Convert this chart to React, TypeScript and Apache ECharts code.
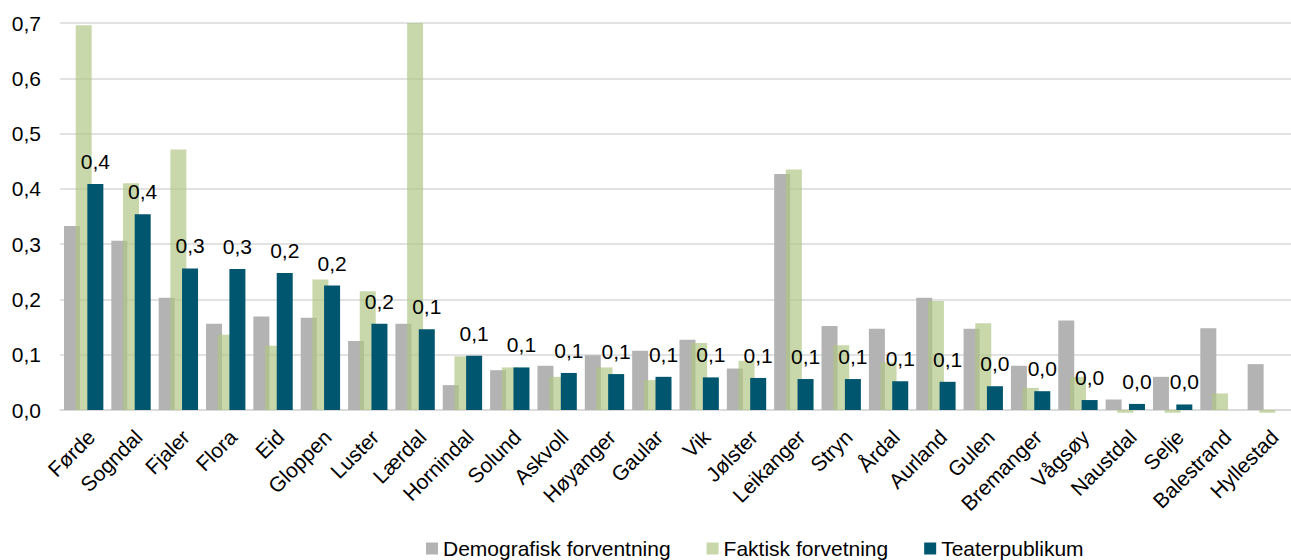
import React, { useEffect, useRef } from "react";
import * as echarts from "echarts";

const categories = [
  "Førde", "Sogndal", "Fjaler", "Flora", "Eid", "Gloppen", "Luster", "Lærdal",
  "Hornindal", "Solund", "Askvoll", "Høyanger", "Gaular", "Vik", "Jølster",
  "Leikanger", "Stryn", "Årdal", "Aurland", "Gulen", "Bremanger", "Vågsøy",
  "Naustdal", "Selje", "Balestrand", "Hyllestad",
];

const demografisk = [
  0.333, 0.306, 0.203, 0.156, 0.169, 0.167, 0.125, 0.156, 0.045, 0.072, 0.08,
  0.099, 0.107, 0.127, 0.075, 0.427, 0.152, 0.147, 0.203, 0.147, 0.08, 0.162,
  0.019, 0.06, 0.148, 0.083,
];

const faktisk = [
  0.696, 0.41, 0.471, 0.136, 0.116, 0.236, 0.215, 0.7, 0.097, 0.077, 0.06,
  0.077, 0.054, 0.121, 0.089, 0.435, 0.117, 0.086, 0.197, 0.157, 0.04, 0.06,
  -0.005, -0.005, 0.03, -0.005,
];

const teaterpublikum = [
  0.409, 0.354, 0.256, 0.255, 0.248, 0.225, 0.156, 0.146, 0.098, 0.077, 0.067,
  0.065, 0.06, 0.059, 0.058, 0.056, 0.056, 0.052, 0.051, 0.043, 0.034, 0.018,
  0.011, 0.01, null, null,
];

const seriesNames = ["Demografisk forventning", "Faktisk forvetning", "Teaterpublikum"];
const yTicks = { min: 0, max: 0.7, interval: 0.1 };

const fmt = (v: number) => v.toFixed(1).replace(".", ",");

export default function App() {
  const ref = useRef<HTMLDivElement>(null);
  useEffect(() => {
    if (!ref.current) return;
    const chart = echarts.init(ref.current, null, { renderer: "svg" });
    const font = "Liberation Sans, Arial, sans-serif";
    chart.setOption({
      animation: false,
      textStyle: { fontFamily: font },
      grid: { left: 60, right: -9, top: 23, bottom: 150, containLabel: false },
      legend: {
        left: 426,
        top: 538,
        padding: 0,
        itemWidth: 12,
        itemHeight: 12,
        itemGap: 36,
        icon: "rect",
        textStyle: { fontSize: 21, color: "#000", fontFamily: font },
        data: seriesNames,
      },
      xAxis: {
        type: "category",
        data: categories,
        axisTick: { show: false },
        axisLine: { lineStyle: { color: "#d9d9d9", width: 1.5 } },
        axisLabel: {
          rotate: 45,
          interval: 0,
          align: "right",
          verticalAlign: "top",
          margin: 16,
          fontSize: 21,
          color: "#000",
          fontFamily: font,
        },
      },
      yAxis: {
        type: "value",
        min: yTicks.min,
        max: yTicks.max,
        interval: yTicks.interval,
        axisLine: { show: false },
        axisTick: { show: false },
        splitLine: { lineStyle: { color: "#d9d9d9", width: 1.5 } },
        axisLabel: {
          formatter: (v: number) => fmt(v),
          fontSize: 21,
          color: "#000",
          margin: 19,
          fontFamily: font,
        },
      },
      series: [
        {
          name: seriesNames[0],
          type: "bar",
          data: demografisk,
          barWidth: 16,
          barGap: "-27%",
          itemStyle: { color: "#b3b3b3" },
        },
        {
          name: seriesNames[1],
          type: "bar",
          data: faktisk,
          barWidth: 16,
          barGap: "-27%",
          clip: false,
          itemStyle: { color: "rgb(174,198,130)", opacity: 0.68 },
        },
        {
          name: seriesNames[2],
          type: "bar",
          data: teaterpublikum,
          barWidth: 16,
          barGap: "-27%",
          itemStyle: { color: "#00566f" },
          label: {
            show: true,
            position: "top",
            distance: 12,
            fontSize: 21,
            color: "#000",
            fontFamily: font,
            formatter: (p: any) => (p.value == null ? "" : fmt(p.value)),
          },
        },
      ],
    });
    return () => chart.dispose();
  }, []);
  return (
    <div
      ref={ref}
      style={{ position: "absolute", left: 0, top: 0, width: 1291, height: 560 }}
    />
  );
}
